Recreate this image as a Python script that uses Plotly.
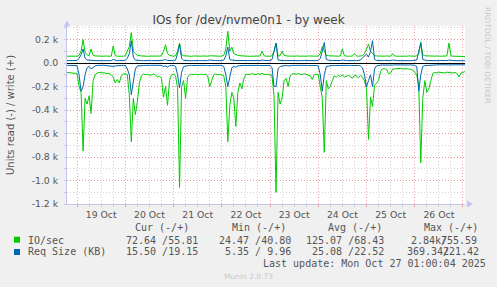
import pandas as pd
import plotly.graph_objects as go

# ---------------- data (hourly, starting 2025-10-18 19:00) ----------------
start_time = "2025-10-18 19:00"
end_time = "2025-10-27 01:00"

io_write = [
    58, 57, 60, 58, 59,
    58, 65, 100, 200, 90, 70, 62, 120, 65, 60, 58, 60, 57, 58, 59, 57, 60, 58, 145, 62, 58, 57, 59, 58,
    62, 100, 140, 260, 100, 80, 66, 62, 60, 58, 60, 57, 59, 58, 60, 58, 57, 59, 62, 100, 155, 80, 65, 60,
    58, 62, 100, 170, 70, 62, 60, 58, 59, 57, 60, 58, 57, 59, 58, 60, 57, 58, 62, 60, 58, 57, 59, 58,
    60, 65, 120, 270, 100, 135, 80, 70, 65, 62, 60, 59, 58, 60, 57, 58, 59, 57, 58, 60, 100, 62, 58, 57,
    58, 62, 100, 170, 60, 62, 100, 65, 60, 58, 59, 57, 58, 60, 57, 58, 59, 57, 58, 60, 58, 57, 59, 58,
    60, 80, 140, 100, 65, 62, 60, 58, 59, 57, 58, 60, 120, 62, 58, 57, 59, 58, 80, 60, 58, 57, 62, 80,
    120, 160, 100, 80, 62, 60, 58, 59, 57, 58, 60, 57, 58, 80, 60, 58, 57, 59, 58, 57, 58, 60, 58, 57,
    58, 62, 80, 180, 70, 62, 60, 58, 59, 57, 58, 60, 57, 58, 59, 57, 60, 170, 62, 58, 57, 59, 58, 57,
    56, 55.81,
]
io_read = [
    -80, -82, -78, -80, -85,
    -90, -200, -250, -750, -300, -350, -280, -430, -150, -100, -85, -80, -82, -78, -80, -85, -90, -100, -120, -170, -140, -170, -110, -95,
    -90, -100, -270, -670, -300, -440, -330, -170, -110, -95, -100, -95, -105, -100, -95, -100, -120, -110, -130, -290, -200, -360, -150, -100,
    -95, -110, -210, -1060, -200, -150, -300, -120, -100, -95, -100, -95, -100, -98, -95, -100, -95, -110, -200, -150, -100, -95, -100, -95,
    -100, -110, -200, -670, -360, -250, -300, -540, -250, -170, -220, -130, -100, -95, -100, -90, -95, -100, -90, -95, -90, -95, -100, -95,
    -100, -110, -280, -1100, -250, -350, -300, -150, -130, -200, -110, -95, -90, -95, -90, -95, -100, -90, -95, -100, -110, -140, -100, -95,
    -100, -200, -300, -760, -150, -220, -200, -150, -110, -120, -105, -115, -100, -120, -110, -105, -115, -130, -105, -110, -125, -105, -120, -150,
    -220, -650, -290, -370, -190, -170, -150, -70, -50, -48, -55, -90, -85, -52, -50, -48, -52, -45, -50, -48, -52, -50, -55, -60,
    -80, -100, -200, -850, -300, -150, -250, -220, -150, -90, -80, -85, -78, -82, -80, -85, -78, -80, -82, -85, -80, -90, -120, -85,
    -80, -72.64,
]
req_write = [
    20, 21, 20, 19, 20,
    22, 40, 70, 120, 40, 25, 22, 25, 22, 20, 21, 20, 19, 20, 21, 20, 19, 20, 30, 22, 20, 21, 20, 19,
    22, 40, 80, 190, 50, 25, 22, 20, 21, 20, 22, 20, 21, 20, 19, 20, 22, 20, 21, 25, 30, 22, 20, 21,
    20, 25, 80, 160, 40, 22, 20, 21, 20, 19, 20, 22, 20, 21, 20, 19, 20, 21, 25, 22, 20, 21, 20, 19,
    20, 25, 60, 135, 30, 25, 22, 21, 20, 22, 20, 21, 19, 20, 21, 20, 19, 20, 21, 20, 25, 20, 21, 20,
    20, 30, 100, 170, 25, 22, 22, 20, 21, 20, 19, 20, 21, 20, 19, 20, 21, 20, 19, 20, 21, 22, 20, 20,
    22, 40, 100, 175, 30, 22, 20, 21, 20, 22, 20, 21, 25, 20, 21, 20, 22, 20, 21, 20, 22, 25, 45, 60,
    75, 50, 100, 190, 30, 22, 20, 21, 20, 22, 20, 19, 20, 25, 20, 21, 20, 19, 20, 21, 20, 19, 20, 21,
    20, 25, 100, 170, 30, 22, 20, 21, 20, 19, 20, 21, 20, 22, 20, 19, 20, 25, 20, 21, 20, 19, 20, 19,
    19, 19.15,
]
req_read = [
    -20, -18, -20, -22, -20,
    -25, -100, -240, -200, -100, -40, -30, -50, -40, -25, -20, -22, -20, -18, -20, -22, -20, -25, -30, -25, -22, -20, -21, -20,
    -22, -50, -100, -270, -150, -50, -25, -22, -20, -21, -20, -22, -20, -19, -20, -21, -20, -22, -20, -30, -25, -35, -22, -20,
    -21, -30, -100, -210, -80, -30, -25, -22, -20, -21, -20, -19, -20, -22, -20, -21, -20, -22, -25, -22, -20, -21, -20, -19,
    -20, -30, -100, -200, -120, -40, -30, -35, -25, -22, -25, -20, -21, -20, -19, -20, -21, -20, -19, -20, -22, -20, -21, -20,
    -20, -40, -200, -200, -50, -30, -25, -22, -20, -25, -20, -21, -20, -19, -20, -21, -20, -19, -20, -21, -20, -22, -20, -21,
    -25, -100, -240, -100, -30, -25, -22, -20, -21, -20, -22, -20, -21, -20, -19, -20, -21, -20, -22, -20, -21, -25, -40, -100,
    -200, -150, -100, -200, -50, -25, -20, -18, -17, -18, -17, -18, -17, -18, -16, -17, -18, -17, -16, -17, -18, -17, -16, -17,
    -20, -30, -240, -100, -30, -22, -20, -18, -17, -16, -17, -16, -15, -16, -17, -16, -15, -16, -17, -16, -15, -16, -15, -16,
    -15.5, -15.5,
]

y_tick_vals = [-1200, -1000, -800, -600, -400, -200, 0, 200]
y_tick_text = ["-1.2 k", "-1.0 k", "-0.8 k", "-0.6 k", "-0.4 k", "-0.2 k", "0.0", "0.2 k"]

title_text = "IOs for /dev/nvme0n1 - by week"
y_title = "Units read (-) / write (+)"
legend_names = ["IO/sec", "Req Size (KB)"]
legend_colors = ["#00CC00", "#0066B3"]
col_headers = ["Cur (-/+)", "Min (-/+)", "Avg (-/+)", "Max (-/+)"]
cur_vals = ["72.64 /55.81", "15.50 /19.15"]
min_vals = ["24.47 /40.80", "5.35 / 9.96"]
avg_vals = ["125.07 /68.43", "25.08 /22.52"]
max_read = ["2.84k", "369.34"]
max_write = ["755.59", "221.42"]
last_update = "Last update: Mon Oct 27 01:00:04 2025"
footer = "Munin 2.0.73"
side_text = "RRDTOOL / TOBI OETIKER"

# ---------------- figure ----------------
W, H = 497, 287
ML, MR, MT, MB = 67, 32, 26, 83
PW, PH = W - ML - MR, H - MT - MB


def fx(px):
    return (px - ML) / PW


def fy(py):
    return (H - MB - py) / PH


times = pd.date_range(start_time, periods=len(io_write), freq="h")

fig = go.Figure()
fig.add_trace(go.Scatter(x=times, y=io_write, mode="lines",
                         line=dict(color=legend_colors[0], width=1)))
fig.add_trace(go.Scatter(x=times, y=io_read, mode="lines",
                         line=dict(color=legend_colors[0], width=1)))
fig.add_trace(go.Scatter(x=times, y=req_write, mode="lines",
                         line=dict(color=legend_colors[1], width=1)))
fig.add_trace(go.Scatter(x=times, y=req_read, mode="lines",
                         line=dict(color=legend_colors[1], width=1)))

TXT = "#555555"
SANS = "DejaVu Sans"
MONO = "DejaVu Sans Mono"
MAJ = "rgba(235,130,130,0.75)"
MIN = "#d2d2d2"
AX = "#c4c4f0"
DOT = "1px,2px"

fig.update_layout(
    width=W, height=H,
    margin=dict(l=ML, r=MR, t=MT, b=MB),
    paper_bgcolor="#F0F0F0", plot_bgcolor="#FFFFFF",
    showlegend=False,
    title=dict(text=title_text, x=0.5, xanchor="center", y=1 - 19.5 / H,
               yanchor="middle", font=dict(family=SANS, size=12, color="#444444")),
    xaxis=dict(
        type="date", range=[start_time, end_time],
        tick0="2025-10-19", dtick=86400000, ticklabelmode="period",
        tickformat="%d %b", tickfont=dict(family=SANS, size=9.3, color=TXT),
        showgrid=True, gridcolor=MAJ, griddash=DOT, gridwidth=1,
        ticks="outside", ticklen=2, tickcolor=MAJ,
        minor=dict(dtick=21600000, showgrid=True, gridcolor=MIN, griddash=DOT,
                   ticks="outside", ticklen=2, tickcolor=MIN),
        showline=True, linecolor=AX, linewidth=1, zeroline=False,
    ),
    yaxis=dict(
        range=[-1200, 315], tickmode="array", tickvals=y_tick_vals, ticktext=y_tick_text,
        tickfont=dict(family=SANS, size=9.3, color=TXT),
        showgrid=True, gridcolor=MAJ, griddash=DOT, gridwidth=1,
        ticks="outside", ticklen=2, tickcolor=AX, ticklabelstandoff=4,
        minor=dict(tickmode="linear", tick0=0, dtick=100, showgrid=True, gridcolor=MIN,
                   griddash=DOT, ticks="outside", ticklen=2, tickcolor=AX),
        showline=True, linecolor=AX, linewidth=1,
        zeroline=True, zerolinecolor="#000000", zerolinewidth=1,
    ),
)

ann = []


def add_text(text, px, py, anchor="left", font=MONO, size=10, color=TXT, angle=0):
    ann.append(dict(text=text, x=fx(px), y=fy(py), xref="paper", yref="paper",
                    xanchor=anchor, yanchor="middle", showarrow=False, borderpad=0,
                    textangle=angle, font=dict(family=font, size=size, color=color)))


# y axis title
add_text(y_title, 10, 115, anchor="center", font=SANS, size=10, angle=-90)
# side text
add_text(side_text, 487, 56, anchor="center", font=SANS, size=7.5, color="#c8c8c8", angle=90)

# legend table
hdr_x = [134, 231, 327, 423]
for t, x in zip(col_headers, hdr_x):
    add_text(t, x, 227.5)
row_y = [240, 251.7]
cur_x = [125, 125]
min_x = [218, 224]
avg_x = [305, 311]
maxr_x = [410, 406]
maxw_x = [439.5, 441.7]
for i in range(2):
    add_text(legend_names[i], 27, row_y[i])
    add_text(cur_vals[i], cur_x[i], row_y[i])
    add_text(min_vals[i], min_x[i], row_y[i])
    add_text(avg_vals[i], avg_x[i], row_y[i])
    add_text(max_read[i], maxr_x[i], row_y[i])
    add_text("/", maxw_x[i], row_y[i])
    add_text(max_write[i], maxw_x[i], row_y[i])
add_text(last_update, 262, 263.5)
add_text(footer, 248, 276, anchor="center", font=SANS, size=7.5, color="#c8c8c8")

shapes = []
sq_y = [239.7, 252]
for i in range(2):
    shapes.append(dict(type="rect", xref="paper", yref="paper",
                       x0=fx(14), x1=fx(20), y0=fy(sq_y[i] - 3), y1=fy(sq_y[i] + 3),
                       fillcolor=legend_colors[i], line=dict(width=0)))
# axis arrows
shapes.append(dict(type="path", xref="paper", yref="paper",
                   path=f"M {fx(67)},{fy(20.5)} L {fx(63.5)},{fy(26.5)} L {fx(70.5)},{fy(26.5)} Z",
                   fillcolor=AX, line=dict(width=0)))
shapes.append(dict(type="path", xref="paper", yref="paper",
                   path=f"M {fx(473)},{fy(204)} L {fx(467)},{fy(200.5)} L {fx(467)},{fy(207.5)} Z",
                   fillcolor=AX, line=dict(width=0)))

fig.update_layout(annotations=ann, shapes=shapes)
fig.write_html("out.html")
